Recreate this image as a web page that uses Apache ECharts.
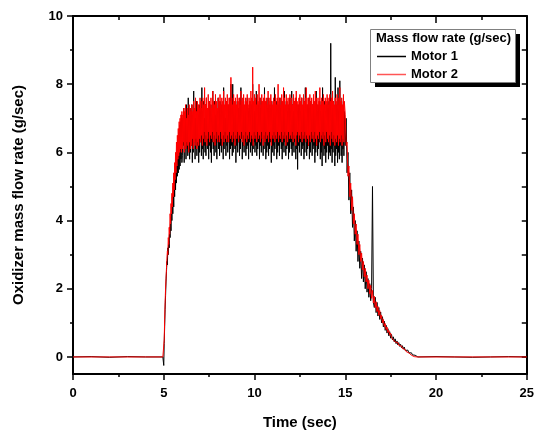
<!DOCTYPE html>
<html>
<head>
<meta charset="utf-8">
<script src="https://cdn.jsdelivr.net/npm/echarts@6/dist/echarts.min.js"></script>
<style>html,body{margin:0;padding:0;background:#fff}#chart{width:537px;height:436px}</style>
</head>
<body>
<div id="chart"></div>
<script>
// ---- data (g/sec vs sec) ----
const xTicks = [0, 5, 10, 15, 20, 25];
const yTicks = [0, 2, 4, 6, 8, 10];
const seriesNames = ['Motor 1', 'Motor 2'];

// before ignition
const preTime   = [0, 1, 2, 3, 4, 4.95];
const preMotor1 = [0, 0.01, -0.01, 0.01, 0, 0];
const preMotor2 = [0, 0, 0, 0, 0, 0];

// rise, 5.000 s .. 6.000 s, every 0.025 s
const riseStart = 5.0, riseStep = 0.025;
const riseMotor1 = [-0.25,0.4,0.9,1.4,1.8,2.2,2.5,2.8,2.7,3.2,3.0,3.4,3.2,3.8,3.5,4.1,3.7,4.4,4.0,4.7,
 4.2,5.0,4.4,5.3,4.7,5.6,4.9,5.9,5.1,6.1,5.3,6.4,5.4,6.6,5.5,6.8,5.6,6.9,5.8,7.1,5.7];
const riseMotor2 = [-0.05,0.5,1.1,1.6,2.0,2.3,2.6,2.9,3.1,3.0,3.5,3.3,3.8,3.6,4.2,3.9,4.5,4.2,4.8,4.4,
 5.1,4.7,5.4,4.9,5.7,5.2,6.0,5.4,6.3,5.6,6.5,5.8,6.7,5.9,6.9,6.0,7.0,6.1,7.1,6.0,7.2];

// burn plateau, 6.025 s .. 14.95 s, every 0.025 s
const plateauStart = 6.025, plateauStep = 0.025;
const plateauMotor1 = [
 5.9,7.0,6.2,7.3,5.7,6.9,6.3,7.2,5.8,7.4,6.1,7.0,5.9,7.6,6.3,7.1,5.8,7.3,6.0,6.9,
 6.2,7.4,5.7,7.1,6.0,7.8,6.3,7.2,5.8,7.0,6.1,7.5,5.9,7.3,6.2,7.1,5.7,7.4,6.0,7.2,
 6.3,7.3,5.9,7.9,6.1,7.2,5.8,7.5,6.2,7.0,6.0,7.4,5.9,7.6,6.3,7.1,6.1,7.3,5.8,7.5,
 6.2,7.2,6.0,7.4,5.7,7.0,6.3,7.8,6.1,7.3,5.9,7.5,6.2,7.1,6.0,7.4,5.8,7.2,6.3,7.6,
 6.1,7.3,5.9,7.5,6.2,7.1,6.0,7.4,6.4,7.2,5.8,7.9,6.1,7.3,6.3,7.0,5.9,7.5,6.2,7.3,
 6.0,7.4,6.3,7.2,5.8,7.6,6.1,8.0,6.2,7.3,5.9,8.0,6.0,7.5,6.3,7.1,6.1,7.4,5.7,7.2,
 6.2,7.5,6.0,7.3,6.3,7.1,5.9,7.6,6.1,7.9,6.4,7.4,5.8,7.0,6.2,7.5,6.0,7.3,6.3,7.2,
 5.9,7.4,6.1,7.6,6.2,7.2,5.8,7.3,6.3,7.5,6.0,7.1,6.2,7.4,5.9,8.0,6.1,7.3,6.3,7.2,
 6.0,7.5,6.2,7.8,5.9,7.3,6.1,7.4,6.3,7.1,5.8,7.6,6.2,7.3,6.0,7.5,6.4,7.2,5.9,7.4,
 6.1,7.9,6.3,7.2,5.8,7.5,6.0,7.3,6.2,7.6,5.9,7.1,6.1,7.4,6.3,7.3,5.7,7.5,6.0,7.2,
 6.2,7.4,5.9,7.9,6.1,7.2,6.3,7.5,5.8,7.3,6.0,7.4,6.2,7.1,5.9,7.6,6.3,7.3,6.1,7.5,
 5.8,7.2,6.2,7.4,6.0,7.8,6.3,7.3,5.9,7.5,6.1,7.2,6.2,7.4,5.8,7.3,6.0,7.6,6.3,7.2,
 6.1,7.8,5.9,7.4,6.2,7.2,6.0,7.5,6.3,7.3,5.8,7.6,6.1,7.2,5.5,7.4,6.2,7.3,6.0,7.5,
 6.3,7.2,5.9,7.6,6.1,7.3,6.2,7.4,5.8,7.5,6.0,7.9,6.3,7.2,5.9,7.4,6.1,7.3,6.2,7.6,
 5.8,7.3,6.0,7.5,6.3,7.2,5.9,7.4,6.1,7.6,6.2,7.3,5.7,7.5,6.0,7.8,6.2,7.2,5.9,7.4,
 6.1,7.3,6.3,7.5,5.8,7.2,6.0,7.4,5.6,7.9,6.2,7.3,5.9,7.5,6.1,7.2,5.7,7.4,6.0,7.3,
 6.2,7.5,5.8,7.3,6.0,7.6,5.9,9.2,6.1,7.4,5.7,7.3,6.0,7.5,6.2,7.2,5.6,8.2,5.9,7.4,
 6.1,7.3,5.7,7.9,6.0,7.2,5.8,8.1,6.2,7.4,5.9,7.5,5.7,7.3,6.1,7.6,5.9,7.2
];
const plateauMotor2 = [
 6.1,7.1,6.3,7.3,6.0,7.2,6.2,7.4,6.1,7.0,6.3,7.3,6.2,7.1,6.0,7.4,6.3,7.2,6.1,7.3,
 6.2,7.4,6.4,7.2,6.1,7.5,6.3,7.3,6.2,7.6,6.4,7.2,6.1,7.5,6.3,7.4,6.2,7.3,6.4,7.6,
 6.3,7.5,6.5,7.3,6.2,7.6,6.4,7.4,6.6,7.9,6.3,7.4,6.5,7.6,6.2,7.3,6.4,7.7,6.6,7.5,
 6.3,7.4,6.5,7.6,6.4,7.3,6.6,7.8,6.3,7.5,6.5,7.4,6.2,7.7,6.4,7.5,6.6,7.3,6.3,7.6,
 6.5,7.5,6.3,7.7,6.6,7.4,6.4,7.6,6.2,7.5,6.5,7.8,6.3,7.4,6.6,7.6,6.4,7.5,6.3,7.7,
 6.5,7.4,6.3,7.6,6.6,7.5,6.4,8.2,6.5,7.6,6.3,7.4,6.6,7.7,6.4,7.5,6.2,7.6,6.5,7.4,
 6.4,7.7,6.6,7.5,6.3,7.6,6.5,7.4,6.4,7.8,6.6,7.5,6.3,7.6,6.5,7.7,6.2,7.4,6.4,7.6,
 6.6,7.5,6.3,7.7,6.5,7.4,6.4,7.6,6.6,7.5,6.3,7.8,6.5,7.6,6.4,8.5,6.2,7.5,6.6,7.7,
 6.4,7.6,6.5,7.4,6.3,7.7,6.6,7.5,6.4,8.0,6.5,7.6,6.3,7.4,6.6,7.7,6.4,7.5,6.2,7.6,
 6.5,7.7,6.3,7.5,6.6,7.6,6.4,7.4,6.5,7.8,6.3,7.5,6.6,7.6,6.4,7.7,6.2,7.5,6.5,7.4,
 6.4,7.6,6.6,7.5,6.3,7.7,6.5,7.4,6.4,7.6,6.6,8.0,6.3,7.5,6.5,7.6,6.4,7.4,6.6,7.7,
 6.3,7.5,6.5,7.9,6.4,7.6,6.6,7.4,6.2,7.7,6.5,7.5,6.3,7.6,6.6,7.4,6.4,7.7,6.5,7.5,
 6.4,7.6,6.6,7.4,6.3,7.7,6.5,7.5,6.4,7.6,6.2,7.8,6.5,7.5,6.6,7.4,6.3,7.6,6.5,7.7,
 6.4,7.5,6.6,7.6,6.3,7.4,6.5,7.7,6.4,7.5,6.6,7.6,6.3,7.9,6.5,7.4,6.4,7.6,6.2,7.5,
 6.5,7.7,6.3,7.5,6.6,7.6,6.4,7.4,6.5,7.7,6.3,7.5,6.6,7.8,6.4,7.6,6.2,7.4,6.5,7.6,
 6.4,7.5,6.6,7.9,6.3,7.4,6.5,7.6,6.4,7.5,6.6,7.7,6.2,7.4,6.5,7.6,6.3,7.5,6.6,7.7,
 6.4,7.6,6.3,7.4,6.5,7.7,6.2,7.5,6.6,7.6,6.4,7.8,6.3,7.5,6.5,7.4,6.2,7.6,6.4,7.5,
 6.3,7.7,6.5,7.4,6.2,7.6,6.4,7.9,6.3,7.5,6.5,7.6,6.2,7.4,6.4,7.7,6.3,7.5
];

// tail-off, 15.00 s .. 19.00 s, every 0.05 s
const decayStart = 15.0, decayStep = 0.05;
const decayMotor1 = [
 6.2,7.0,5.4,6.0,4.6,5.4,4.2,4.9,3.8,4.4,
 3.4,4.0,3.1,3.7,2.8,3.4,2.6,3.1,2.3,2.9,
 2.2,2.7,2.0,2.5,1.9,2.3,1.75,2.15,1.65,2.0,
 5.0,1.6,1.45,1.75,1.3,1.6,1.2,1.45,1.1,1.32,
 1.0,1.18,0.88,1.05,0.78,0.93,0.7,0.83,0.62,0.74,
 0.55,0.66,0.5,0.59,0.44,0.53,0.39,0.47,0.35,0.42,
 0.31,0.37,0.27,0.33,0.23,0.29,0.19,0.24,0.15,0.2,
 0.12,0.16,0.09,0.12,0.06,0.08,0.04,0.05,0.01,0,
 0
];
const decayMotor2 = [
 7.1,6.2,6.3,5.3,5.6,4.7,5.1,4.3,4.7,3.9,
 4.2,3.6,3.9,3.3,3.6,3.0,3.3,2.8,3.05,2.55,
 2.8,2.35,2.6,2.2,2.4,2.0,2.25,1.85,2.1,1.72,
 1.95,1.58,1.78,1.45,1.62,1.33,1.48,1.22,1.36,1.12,
 1.22,1.0,1.1,0.9,0.98,0.8,0.88,0.72,0.78,0.64,
 0.7,0.57,0.62,0.5,0.55,0.44,0.48,0.39,0.42,0.34,
 0.37,0.3,0.32,0.25,0.27,0.2,0.22,0.16,0.17,0.12,
 0.12,0.08,0.08,0.05,0.04,0.02,0.01,0,0,0,
 0
];

// after burnout
const postTime   = [19.05, 20, 21, 22, 23, 24, 25];
const postMotor1 = [0, 0.01, 0, -0.01, 0, 0.01, 0];
const postMotor2 = [0, 0, 0, 0, 0, 0, 0];

// ---- build series points ----
function pairs(times, vals) { return vals.map((v, i) => [times[i], v]); }
function sampled(start, step, vals) { return vals.map((v, i) => [+(start + i * step).toFixed(3), v]); }
const motor1 = [].concat(pairs(preTime, preMotor1), sampled(riseStart, riseStep, riseMotor1),
  sampled(plateauStart, plateauStep, plateauMotor1), sampled(decayStart, decayStep, decayMotor1), pairs(postTime, postMotor1));
const motor2 = [].concat(pairs(preTime, preMotor2), sampled(riseStart, riseStep, riseMotor2),
  sampled(plateauStart, plateauStep, plateauMotor2), sampled(decayStart, decayStep, decayMotor2), pairs(postTime, postMotor2));

const FONT = '"Liberation Sans", Arial, sans-serif';
const axisLine = { show: true, onZero: false, lineStyle: { color: '#000', width: 2 } };
const tickStyle = { color: '#000', width: 1.5 };

const chart = echarts.init(document.getElementById('chart'), null, { renderer: 'canvas' });
chart.setOption({
  animation: false,
  backgroundColor: '#fff',
  grid: { left: 73, top: 16, width: 455, height: 358, containLabel: false },
  xAxis: [
    { type: 'value', position: 'bottom', min: xTicks[0], max: xTicks[xTicks.length - 1], interval: 5,
      name: 'Time (sec)', nameLocation: 'middle', nameGap: 41,
      nameTextStyle: { fontFamily: FONT, fontWeight: 'bold', fontSize: 15, color: '#000' },
      axisLine, axisTick: { show: true, inside: false, length: 6, lineStyle: tickStyle },
      minorTick: { show: true, splitNumber: 2, length: 3, lineStyle: tickStyle },
      axisLabel: { fontFamily: FONT, fontWeight: 'bold', fontSize: 13, color: '#000', margin: 13 },
      splitLine: { show: false } },
    { type: 'value', position: 'top', min: xTicks[0], max: xTicks[xTicks.length - 1], interval: 5,
      axisLine, axisTick: { show: true, inside: true, length: 7, lineStyle: tickStyle },
      minorTick: { show: true, splitNumber: 2, length: 4, lineStyle: tickStyle },
      axisLabel: { show: false }, splitLine: { show: false } }
  ],
  yAxis: [
    { type: 'value', position: 'left', min: -0.5, max: 10,
      name: 'Oxidizer mass flow rate (g/sec)', nameLocation: 'middle', nameGap: 47,
      nameTextStyle: { fontFamily: FONT, fontWeight: 'bold', fontSize: 15, color: '#000' },
      axisLine, axisTick: { show: true, inside: false, length: 6, lineStyle: tickStyle, customValues: yTicks },
      axisLabel: { fontFamily: FONT, fontWeight: 'bold', fontSize: 13, color: '#000', margin: 10, customValues: yTicks },
      splitLine: { show: false } },
    { type: 'value', position: 'left', min: -0.5, max: 10,
      axisLine: { show: false },
      axisTick: { show: true, inside: false, length: 3, lineStyle: tickStyle, customValues: [1, 3, 5, 7, 9] },
      axisLabel: { show: false }, splitLine: { show: false } },
    { type: 'value', position: 'right', min: -0.5, max: 10,
      axisLine, axisTick: { show: true, inside: true, length: 5, lineStyle: tickStyle, customValues: [0,1,2,3,4,5,6,7,8,9,10] },
      axisLabel: { show: false }, splitLine: { show: false } }
  ],
  legend: {
    show: true, orient: 'vertical', left: 377, top: 50, padding: 0, itemGap: 5,
    itemWidth: 29, itemHeight: 1.5, icon: 'rect',
    textStyle: { fontFamily: FONT, fontWeight: 'bold', fontSize: 13, color: '#000' },
    data: [
      { name: seriesNames[0], icon: 'rect', itemStyle: { color: '#000' } },
      { name: seriesNames[1], icon: 'rect', itemStyle: { color: '#ff5555' } }
    ]
  },
  graphic: [
    { type: 'rect', z: 0, silent: true, shape: { x: 375, y: 34, width: 145, height: 53 }, style: { fill: '#000' } },
    { type: 'rect', z: 1, silent: true, shape: { x: 370.5, y: 29.5, width: 145, height: 53 }, style: { fill: '#fff', stroke: '#808080', lineWidth: 1 } },
    { type: 'text', z: 2, silent: true, left: 376, top: 32, style: { text: 'Mass flow rate (g/sec)', font: 'bold 13px ' + FONT, fill: '#000' } }
  ],
  series: [
    { name: seriesNames[0], type: 'line', data: motor1, xAxisIndex: 0, yAxisIndex: 0, symbol: 'none', showSymbol: false,
      sampling: null, lineStyle: { color: '#000', width: 1 }, itemStyle: { color: '#000' }, z: 3 },
    { name: seriesNames[1], type: 'line', data: motor2, xAxisIndex: 0, yAxisIndex: 0, symbol: 'none', showSymbol: false,
      sampling: null, lineStyle: { color: '#ff0000', width: 1 }, itemStyle: { color: '#ff0000' }, z: 4 }
  ]
});
</script>
</body>
</html>
